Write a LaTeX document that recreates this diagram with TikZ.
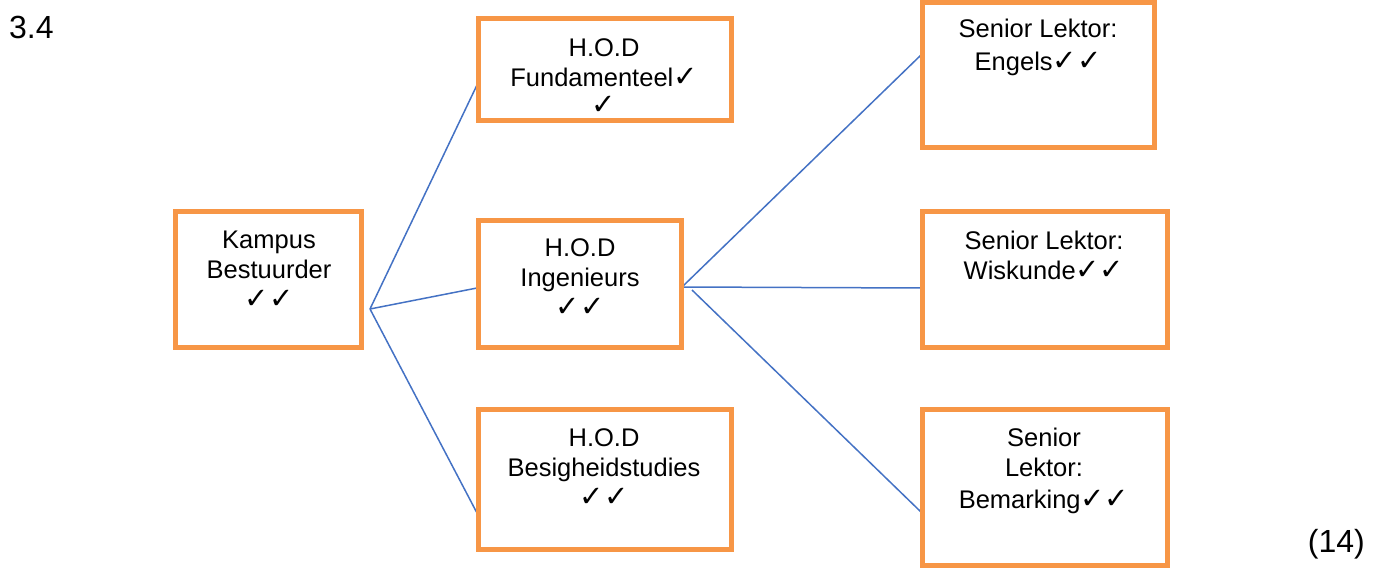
\documentclass[tikz,border=0pt]{standalone}
\usepackage{fontspec}
\setmainfont{Liberation Sans}
\newfontfamily\ckfont{DejaVu Sans}
\newcommand{\ck}{{\ckfont\fontsize{29}{30}\selectfont ✓}}
\definecolor{boxorange}{HTML}{F79646}
\definecolor{lineblue}{HTML}{4472C4}
\begin{document}
\begin{tikzpicture}[x=1pt,y=-1pt,
  orgbox/.style={draw=boxorange,line width=5pt,fill=none,rectangle,inner sep=0pt},
  lbl/.style={anchor=north,align=center,inner sep=0pt,font=\fontsize{25.5}{30}\selectfont},
  big/.style={inner sep=0pt,font=\fontsize{32}{36}\selectfont},
  conn/.style={draw=lineblue,line width=1.5pt}]
\useasboundingbox (0,0) rectangle (1375,569);
% connector ends
\coordinate (k0) at (370,309);
\coordinate (i0) at (682,287);
\coordinate (i1) at (692,290);
\coordinate (fL) at (477,85);
\coordinate (iL) at (477,288);
\coordinate (bL) at (477,513);
\coordinate (eL) at (921,55);
\coordinate (wL) at (921,288);
\coordinate (mL) at (921,512);
\draw[conn] (k0) -- (fL);
\draw[conn] (k0) -- (iL);
\draw[conn] (k0) -- (bL);
\draw[conn] (i0) -- (eL);
\draw[conn] (i0) -- (wL);
\draw[conn] (i1) -- (mL);
% boxes
\node[orgbox,minimum width=253pt,minimum height=102pt] (fund) at (605,69.5) {};
\node[orgbox,minimum width=186pt,minimum height=136pt] (kamp) at (268.5,279.5) {};
\node[orgbox,minimum width=203pt,minimum height=127pt] (ing) at (580,284) {};
\node[orgbox,minimum width=253pt,minimum height=140pt] (besig) at (605,479.5) {};
\node[orgbox,minimum width=232pt,minimum height=145pt] (eng) at (1038.5,75) {};
\node[orgbox,minimum width=245pt,minimum height=136pt] (wisk) at (1045,279.5) {};
\node[orgbox,minimum width=245pt,minimum height=156pt] (bem) at (1045,487.5) {};
% texts
\node[lbl] (tfund) at (604,38) {H.O.D\\Fundamenteel\ck\\[-2pt]\ck};
\node[lbl] (tkamp) at (269,231) {Kampus\\Bestuurder\\\ck\ck};
\node[lbl] (ting) at (580,238) {H.O.D\\Ingenieurs\\\ck\ck};
\node[lbl] (tbesig) at (604,428) {H.O.D\\Besigheidstudies\\\ck\ck};
\node[lbl] (teng) at (1038,19) {Senior Lektor:\\[3pt]Engels\ck\ck};
\node[lbl] (twisk) at (1044,231) {Senior Lektor:\\Wiskunde\ck\ck};
\node[lbl] (tbem) at (1044,428) {Senior\\Lektor:\\[2pt]Bemarking\ck\ck};
\node[big,anchor=west] (num) at (9,27) {3.4};
\node[big,anchor=east] (marks) at (1365,544) {(14)};
\end{tikzpicture}
\end{document}
